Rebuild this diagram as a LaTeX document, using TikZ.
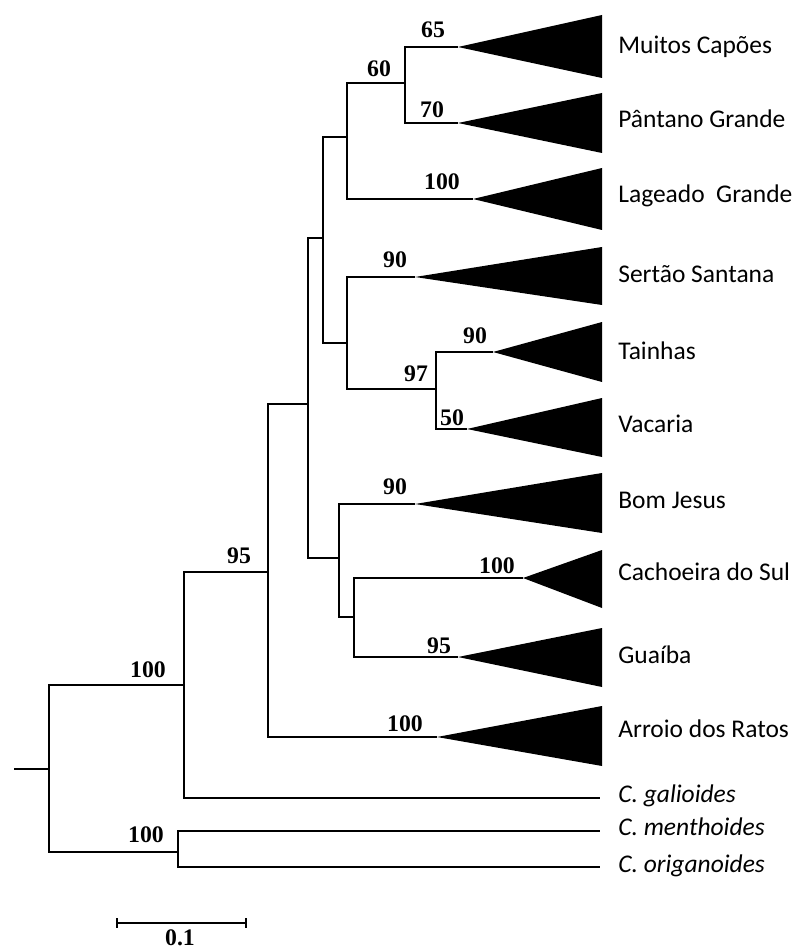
\documentclass[tikz,border=0pt]{standalone}
\usepackage{fontspec}
\setmainfont{Liberation Serif}
\newfontfamily\taxfont{Carlito}
\usetikzlibrary{calc}
\tikzset{boot/.style={font=\fontsize{13.5}{14}\selectfont\bfseries,anchor=base,inner sep=0pt},
	taxon/.style={font=\taxfont\fontsize{14.5}{16}\selectfont,anchor=base west,inner sep=0pt},
	branch/.style={line width=0.8pt}}
\newcommand{\cladetri}[3]{\fill (#1) -- (602,#2) -- (602,#3) -- cycle;}

\begin{document}
\begin{tikzpicture}[x=0.02cm,y=-0.02cm]
				\useasboundingbox (0,0) rectangle (795,949);
				% inner nodes
				\coordinate (rs) at (14,769);
				\coordinate (r) at (49,769);
				\coordinate (gal) at (184,685);
				\coordinate (out) at (178,852);
				\coordinate (n95) at (268,572);
				\coordinate (na) at (308,404);
				\coordinate (nb) at (323,238);
				\coordinate (n60) at (347,137);
				\coordinate (mp) at (405,83);
				\coordinate (ss) at (347,343);
				\coordinate (n97) at (436,389);
				\coordinate (bj) at (339,558);
				\coordinate (cg) at (354,617);
				% tips
				\coordinate (tMC) at (458,47);
				\coordinate (tPG) at (458,123);
				\coordinate (tLG) at (473,199);
				\coordinate (tSS) at (415,277);
				\coordinate (tTa) at (493,352);
				\coordinate (tVa) at (467,429);
				\coordinate (tBJ) at (415,504);
				\coordinate (tCS) at (523,578);
				\coordinate (tGu) at (458,657);
				\coordinate (tAR) at (437,737);
				\coordinate (tCg) at (600,798);
				\coordinate (tCm) at (600,831);
				\coordinate (tCo) at (600,867);
				% branches
				\draw[branch] (rs)--(r) (r)|-(gal) (r)|-(out);
				\draw[branch] (gal)|-(n95) (gal)|-(tCg);
				\draw[branch] (out)|-(tCm) (out)|-(tCo);
				\draw[branch] (n95)|-(na) (n95)|-(tAR);
				\draw[branch] (na)|-(nb) (na)|-(bj);
				\draw[branch] (nb)|-(n60) (nb)|-(ss);
				\draw[branch] (n60)|-(mp) (n60)|-(tLG);
				\draw[branch] (mp)|-(tMC) (mp)|-(tPG);
				\draw[branch] (ss)|-(tSS) (ss)|-(n97);
				\draw[branch] (n97)|-(tTa) (n97)|-(tVa);
				\draw[branch] (bj)|-(tBJ) (bj)|-(cg);
				\draw[branch] (cg)|-(tCS) (cg)|-(tGu);
				% collapsed clades
				\cladetri{tMC}{15}{78}
				\cladetri{tPG}{93}{153}
				\cladetri{tLG}{168}{230}
				\cladetri{tSS}{247}{305}
				\cladetri{tTa}{322}{382}
				\cladetri{tVa}{398}{457}
				\cladetri{tBJ}{473}{533}
				\cladetri{tCS}{550}{608}
				\cladetri{tGu}{628}{687}
				\cladetri{tAR}{706}{766}
				% bootstrap values
				\node[boot] (b65) at (433,38){65};
				\node[boot] (b60) at (379,77){60};
				\node[boot] (b70) at (432,118){70};
				\node[boot] (bLG) at (442,190){100};
				\node[boot] (bSS) at (395,268){90};
				\node[boot] (bTa) at (475,343){90};
				\node[boot] (b97) at (416,381){97};
				\node[boot] (b50) at (452,425){50};
				\node[boot] (bBJ) at (395,494){90};
				\node[boot] (bCS) at (497,573){100};
				\node[boot] (bGu) at (439,653){95};
				\node[boot] (bAR) at (405,731){100};
				\node[boot] (b95) at (239,563){95};
				\node[boot] (bgal) at (148,677){100};
				\node[boot] (bout) at (146,842){100};
				% taxa
				\node[taxon] (lMC) at (618,54){Muitos Capões};
				\node[taxon] (lPG) at (618,128){Pântano Grande};
				\node[taxon] (lLG) at (618,203){Lageado\ \ Grande};
				\node[taxon] (lSS) at (618,282){Sertão Santana};
				\node[taxon] (lTa) at (618,359){Tainhas};
				\node[taxon] (lVa) at (618,432){Vacaria};
				\node[taxon] (lBJ) at (618,508){Bom Jesus};
				\node[taxon] (lCS) at (618,580){Cachoeira do Sul};
				\node[taxon] (lGu) at (618,663){Guaíba};
				\node[taxon] (lAR) at (618,737){Arroio dos Ratos};
				\node[taxon] (lCg) at (618,802){\itshape C. galioides};
				\node[taxon] (lCm) at (618,835){\itshape C. menthoides};
				\node[taxon] (lCo) at (618,872){\itshape C. origanoides};
				% scale bar
				\coordinate (sa) at (117,923);
				\coordinate (sb) at (246,923);
				\draw[branch] (sa)--(sb) ($(sa)+(0,-5)$)--($(sa)+(0,5)$) ($(sb)+(0,-5)$)--($(sb)+(0,5)$);
				\node[boot] (scl) at (180,945){0.1};
			\end{tikzpicture}
\end{document}
